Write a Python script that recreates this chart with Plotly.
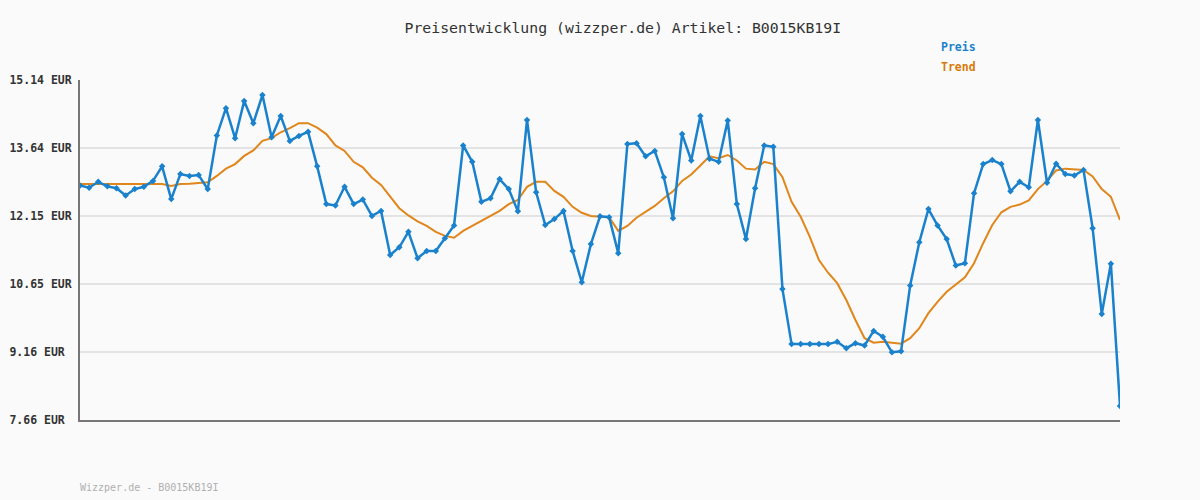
import plotly.graph_objects as go

title_text = "Preisentwicklung (wizzper.de) Artikel: B0015KB19I"
footer_text = "Wizzper.de - B0015KB19I"
series_names = ["Preis", "Trend"]

preis = [
    12.82, 12.77, 12.90, 12.80, 12.76, 12.60, 12.74, 12.79, 12.92, 13.24,
    12.52, 13.07, 13.03, 13.05, 12.74, 13.92, 14.52, 13.86, 14.68, 14.19,
    14.81, 13.88, 14.35, 13.80, 13.91, 14.00, 13.24, 12.41, 12.38, 12.79,
    12.41, 12.51, 12.15, 12.26, 11.29, 11.46, 11.80, 11.22, 11.38, 11.38,
    11.66, 11.94, 13.70, 13.34, 12.46, 12.54, 12.96, 12.74, 12.25, 14.26,
    12.67, 11.95, 12.08, 12.26, 11.38, 10.69, 11.53, 12.14, 12.12, 11.33,
    13.73, 13.75, 13.46, 13.58, 13.00, 12.10, 13.95, 13.37, 14.35, 13.41,
    13.34, 14.25, 12.41, 11.64, 12.76, 13.70, 13.67, 10.54, 9.33, 9.33,
    9.33, 9.33, 9.33, 9.38, 9.24, 9.35, 9.30, 9.62, 9.49, 9.15,
    9.17, 10.62, 11.57, 12.30, 11.94, 11.64, 11.06, 11.11, 12.65, 13.29,
    13.38, 13.29, 12.69, 12.90, 12.78, 14.26, 12.88, 13.30, 13.07, 13.04,
    13.16, 11.88, 9.99, 11.10, 7.97,
]

trend = [
    12.85, 12.85, 12.85, 12.85, 12.85, 12.85, 12.85, 12.85, 12.85, 12.85,
    12.81, 12.85, 12.86, 12.87, 12.89, 13.03, 13.19, 13.29, 13.47, 13.59,
    13.80, 13.86, 13.99, 14.08, 14.19, 14.19, 14.09, 13.95, 13.70, 13.58,
    13.34, 13.22, 12.99, 12.83, 12.57, 12.32, 12.16, 12.03, 11.93, 11.80,
    11.71, 11.67, 11.82, 11.93, 12.04, 12.15, 12.26, 12.41, 12.50, 12.79,
    12.90, 12.90, 12.70, 12.57, 12.35, 12.22, 12.15, 12.13, 12.12, 11.82,
    11.93, 12.11, 12.24, 12.37, 12.54, 12.69, 12.92, 13.06, 13.26, 13.46,
    13.42, 13.49, 13.37, 13.19, 13.17, 13.34, 13.29, 13.00, 12.46, 12.13,
    11.69, 11.18, 10.90, 10.67, 10.30, 9.86, 9.46, 9.36, 9.38, 9.36,
    9.34, 9.46, 9.68, 10.01, 10.26, 10.48, 10.65, 10.80, 11.11, 11.55,
    11.95, 12.23, 12.35, 12.40, 12.49, 12.74, 12.92, 13.15, 13.19, 13.18,
    13.16, 13.02, 12.74, 12.57, 12.06,
]

tick_values = [7.66, 9.16, 10.65, 12.15, 13.64, 15.14]
tick_labels = ["7.66 EUR", "9.16 EUR", "10.65 EUR", "12.15 EUR", "13.64 EUR", "15.14 EUR"]

x = list(range(len(preis)))

BLUE = "#1a82cc"
ORANGE = "#e0861a"
MONO = "DejaVu Sans Mono"

fig = go.Figure()
fig.add_trace(go.Scatter(
    x=x, y=trend, mode="lines", name=series_names[1],
    line=dict(color=ORANGE, width=2),
))
fig.add_trace(go.Scatter(
    x=x, y=preis, mode="lines+markers", name=series_names[0],
    line=dict(color=BLUE, width=2.5),
    marker=dict(symbol="diamond", size=5, color=BLUE),
))

# pad labels so they appear left aligned (monospace)
maxlen = max(len(t) for t in tick_labels)
padded = ["<b>" + t + "\u00a0" * (maxlen - len(t)) + "</b>" for t in tick_labels]

fig.update_layout(
    width=1200, height=500,
    margin=dict(l=80, r=80, t=80, b=80),
    paper_bgcolor="#fafafa",
    plot_bgcolor="#fafafa",
    showlegend=False,
    title=dict(text=title_text, x=0.519, xanchor="center", y=0.944, yanchor="middle",
               font=dict(family=MONO, size=14.8, color="#333333")),
    xaxis=dict(range=[0, len(preis) - 1], showgrid=False, zeroline=False,
               showticklabels=False, ticks="", showline=True, linecolor="#777777",
               linewidth=2, automargin=False),
    yaxis=dict(range=[tick_values[0], tick_values[-1]], tickmode="array",
               tickvals=tick_values, ticktext=padded, showgrid=True,
               gridcolor="#e3e3e3", gridwidth=2, zeroline=False, ticks="",
               showline=True, linecolor="#777777", linewidth=2,
               tickfont=dict(family=MONO, size=11.5, color="#333333"),
               ticklabelstandoff=4, automargin=False),
    annotations=[
        dict(text="<b>" + series_names[0] + "</b>", xref="paper", yref="paper",
             x=0.826, y=1.0 + 33 / 340, xanchor="left", yanchor="middle", showarrow=False,
             font=dict(family=MONO, size=11.5, color=BLUE)),
        dict(text="<b>" + series_names[1] + "</b>", xref="paper", yref="paper",
             x=0.826, y=1.0 + 13 / 340, xanchor="left", yanchor="middle", showarrow=False,
             font=dict(family=MONO, size=11.5, color="#d97a08")),
        dict(text=footer_text, xref="paper", yref="paper",
             x=-2 / 1040, y=-67 / 340, xanchor="left", yanchor="middle", showarrow=False,
             font=dict(family=MONO, size=10, color="#b0b0b0")),
    ],
)

fig.write_html(
    "out.html",
    config={"displayModeBar": False},
    post_script="document.body.style.margin='0';document.body.style.background='#fafafa';",
)
